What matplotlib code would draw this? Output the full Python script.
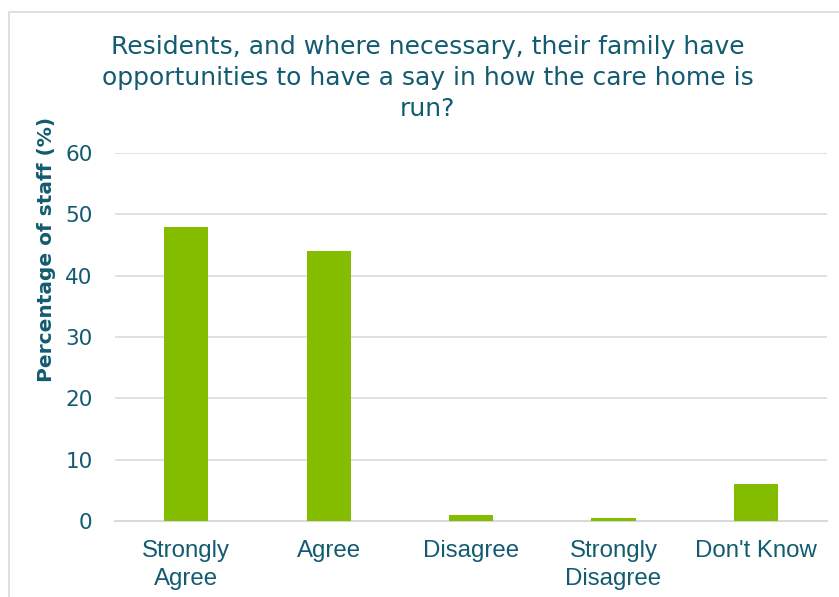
import matplotlib
matplotlib.use("Agg")
import matplotlib.pyplot as plt
from matplotlib.patches import Rectangle

categories = ["Strongly\nAgree", "Agree", "Disagree", "Strongly\nDisagree", "Don't Know"]
percentages = [48, 44, 1, 0.5, 6]
y_ticks = [0, 10, 20, 30, 40, 50, 60]
title = ("Residents, and where necessary, their family have\n"
         "opportunities to have a say in how the care home is\nrun?")
y_label = "Percentage of staff (%)"

TEXT = "#125B70"
GREEN = "#84BC00"
GRID = "#D9D9D9"

fig = plt.figure(figsize=(8.39, 5.97), dpi=100)

# chart area frame
fig.patches.append(Rectangle((9 / 839, -0.05), 1.2, 1 - 12 / 597 + 0.05,
                             transform=fig.transFigure, fill=False,
                             edgecolor=GRID, linewidth=1.2))

ax = fig.add_axes([0.137, 0.1273, 0.849, 0.6164])
x = range(len(categories))
ax.bar(x, percentages, width=0.31, color=GREEN, zorder=3)

ax.set_xlim(-0.5, len(categories) - 0.5)
ax.set_ylim(0, 60)
ax.set_yticks(y_ticks)
ax.set_xticks(list(x))
ax.set_xticklabels(categories, fontfamily="Liberation Sans", fontsize=17.3,
                   color=TEXT, linespacing=1.32)
ax.tick_params(axis="x", length=0, pad=14)
ax.tick_params(axis="y", length=0, pad=16, labelsize=15.5, labelcolor=TEXT)
for lbl in ax.get_yticklabels():
    lbl.set_fontfamily("DejaVu Sans")

ax.grid(axis="y", color=GRID, linewidth=1.1, zorder=0)
for side in ("top", "right", "left"):
    ax.spines[side].set_visible(False)
ax.spines["bottom"].set_color(GRID)
ax.spines["bottom"].set_linewidth(1.5)

fig.text(0.51, 0.941, title, ha="center", va="top", fontsize=18,
         color=TEXT, fontfamily="DejaVu Sans", linespacing=1.36)
fig.text(47 / 839, 0.583, y_label, rotation=90, ha="center", va="center",
         fontsize=14.5, fontweight="bold", color=TEXT, fontfamily="DejaVu Sans")

fig.savefig("out.png", dpi=100)
